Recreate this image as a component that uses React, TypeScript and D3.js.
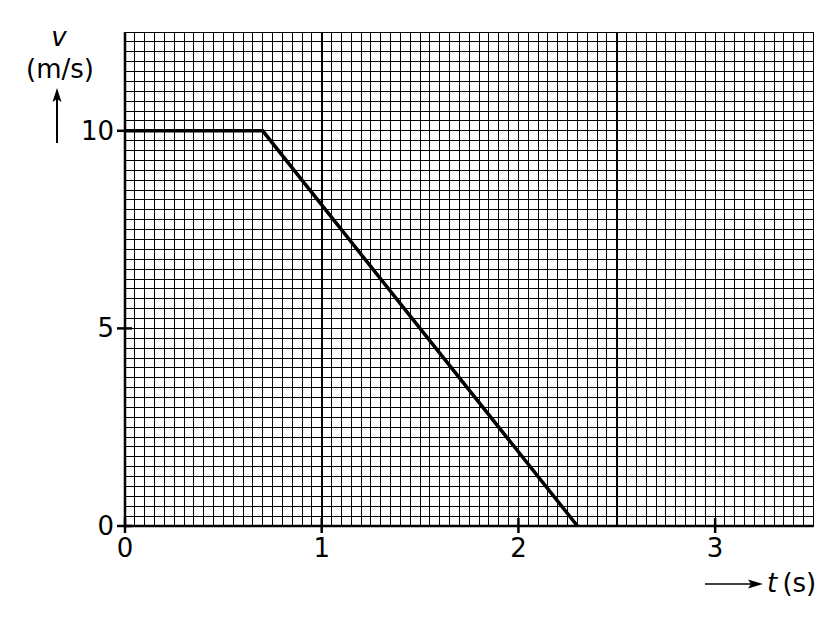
import { useRef, useEffect } from 'react';
import { select, scaleLinear, line, range } from 'd3';

// Data
const timeValues = [0, 0.7, 2.3];
const speedValues = [10, 10, 0];
const xTickValues = [0, 1, 2, 3];
const yTickValues = [0, 5, 10];
const heavyGridTimes = [1, 2.5];

function App() {
    const graphRef = useRef<SVGSVGElement | null>(null);

    // Dimensions
    const width = 840;
    const height = 622;
    const left = 125;
    const right = 813.5;
    const top = 32;
    const bottom = 526;
    const font = 'DejaVu Sans, sans-serif';
    const fontSize = 26;

    // Scales
    const x = scaleLinear().domain([0, 3.5]).range([left, right]);
    const y = scaleLinear().domain([0, 12.5]).range([bottom, top]);

    useEffect(() => {
        const svg = select(graphRef.current);
        svg.selectAll('*').remove();

        // Minor grid
        const grid = svg.append('g').attr('shape-rendering', 'crispEdges');
        grid.selectAll('line.vx')
            .data(range(0, 71).map((i) => i * 0.05))
            .join('line')
            .attr('class', 'vx')
            .attr('x1', (d) => x(d))
            .attr('x2', (d) => x(d))
            .attr('y1', top)
            .attr('y2', bottom)
            .attr('stroke', '#000')
            .attr('stroke-width', 1);
        grid.selectAll('line.hy')
            .data(range(0, 51).map((i) => i * 0.25))
            .join('line')
            .attr('class', 'hy')
            .attr('x1', left)
            .attr('x2', right)
            .attr('y1', (d) => y(d))
            .attr('y2', (d) => y(d))
            .attr('stroke', '#000')
            .attr('stroke-width', 1);

        // Heavier grid lines
        grid.selectAll('line.heavy')
            .data(heavyGridTimes)
            .join('line')
            .attr('class', 'heavy')
            .attr('x1', (d) => x(d))
            .attr('x2', (d) => x(d))
            .attr('y1', top)
            .attr('y2', bottom)
            .attr('stroke', '#000')
            .attr('stroke-width', 2);

        // Axes
        const axes = svg.append('g').attr('stroke', '#000').attr('stroke-width', 2.5);
        axes.append('line').attr('x1', left).attr('x2', left).attr('y1', top).attr('y2', bottom + 1);
        axes.append('line').attr('x1', left - 1).attr('x2', right).attr('y1', bottom).attr('y2', bottom);

        // Ticks
        axes.selectAll('line.xt')
            .data(xTickValues)
            .join('line')
            .attr('class', 'xt')
            .attr('x1', (d) => x(d))
            .attr('x2', (d) => x(d))
            .attr('y1', bottom - 8)
            .attr('y2', bottom + 7);
        axes.selectAll('line.yt')
            .data(yTickValues)
            .join('line')
            .attr('class', 'yt')
            .attr('x1', left - 8)
            .attr('x2', left + 7)
            .attr('y1', (d) => y(d))
            .attr('y2', (d) => y(d));

        // Tick labels
        svg.append('g')
            .selectAll('text')
            .data(xTickValues)
            .join('text')
            .attr('x', (d) => x(d))
            .attr('y', bottom + 31)
            .attr('text-anchor', 'middle')
            .attr('font-family', font)
            .attr('font-size', fontSize)
            .text((d) => `${d}`);
        svg.append('g')
            .selectAll('text')
            .data(yTickValues)
            .join('text')
            .attr('x', left - 11)
            .attr('y', (d) => y(d) + 9)
            .attr('text-anchor', 'end')
            .attr('font-family', font)
            .attr('font-size', fontSize)
            .text((d) => `${d}`);

        // Data line
        const points: [number, number][] = timeValues.map((t, i) => [t, speedValues[i]]);
        svg.append('path')
            .datum(points)
            .attr('d', line<[number, number]>().x((d) => x(d[0])).y((d) => y(d[1])))
            .attr('fill', 'none')
            .attr('stroke', '#000')
            .attr('stroke-width', 3.5)
            .attr('stroke-linejoin', 'miter');

        // Axis titles and arrows
        svg.append('text')
            .attr('x', 59)
            .attr('y', 46)
            .attr('text-anchor', 'middle')
            .attr('font-family', font)
            .attr('font-style', 'italic')
            .attr('font-size', fontSize)
            .text('v');
        svg.append('text')
            .attr('x', 60)
            .attr('y', 78)
            .attr('text-anchor', 'middle')
            .attr('font-family', font)
            .attr('font-size', fontSize)
            .text('(m/s)');

        // v arrow (pointing up)
        svg.append('line')
            .attr('x1', 57)
            .attr('x2', 57)
            .attr('y1', 143)
            .attr('y2', 98)
            .attr('stroke', '#000')
            .attr('stroke-width', 2);
        svg.append('path')
            .attr('d', 'M57,88 L61.5,102 L57,99 L52.5,102 Z')
            .attr('fill', '#000');

        // t arrow (pointing right)
        svg.append('line')
            .attr('x1', 705)
            .attr('x2', 752)
            .attr('y1', 584)
            .attr('y2', 584)
            .attr('stroke', '#000')
            .attr('stroke-width', 1.5);
        svg.append('path')
            .attr('d', 'M763,584 L748,579.5 L751,584 L748,588.5 Z')
            .attr('fill', '#000');

        const tLabel = svg.append('text')
            .attr('x', 767)
            .attr('y', 592)
            .attr('font-family', font)
            .attr('font-size', fontSize);
        tLabel.append('tspan').attr('font-style', 'italic').text('t');
        tLabel.append('tspan').text('\u2009(s)');
    }, []);

    return (
        <div style={{ position: 'absolute', left: 0, top: 0 }}>
            <svg ref={graphRef} width={width} height={height} style={{ display: 'block', background: '#fff' }}></svg>
        </div>
    );
}

export default App;
